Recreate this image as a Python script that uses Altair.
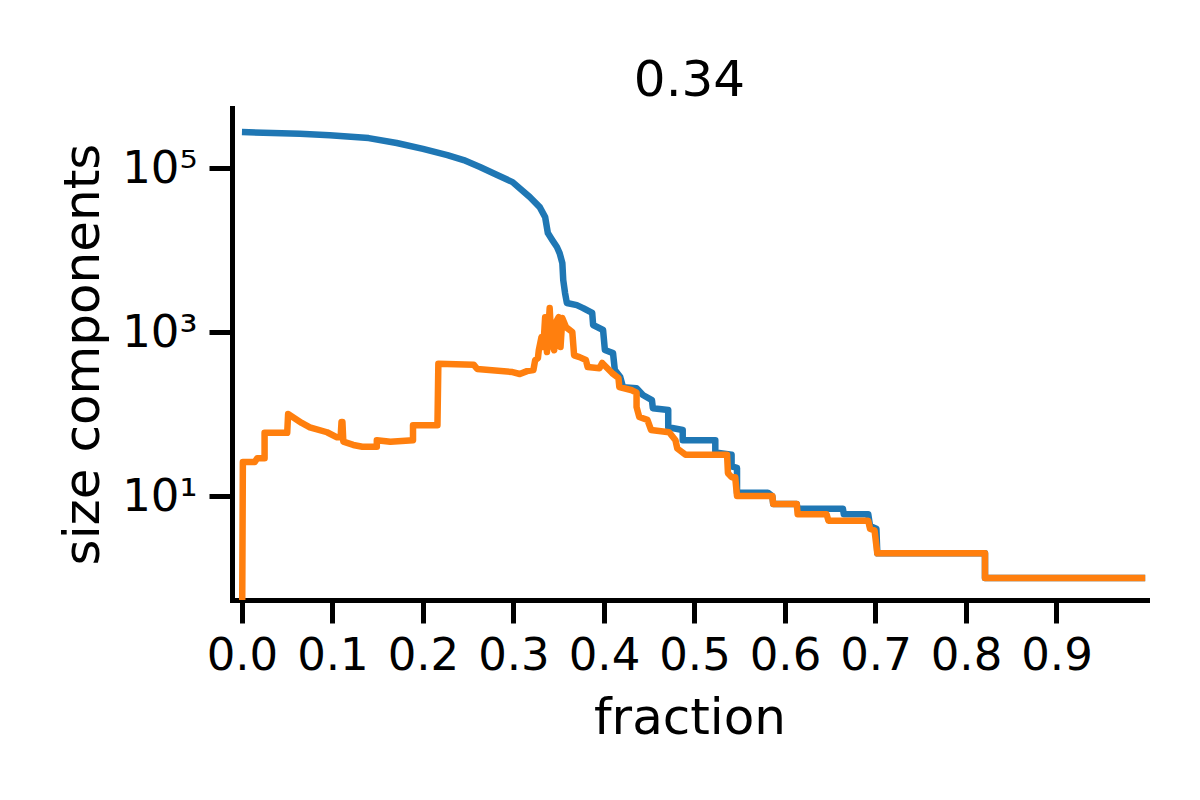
import altair as alt
import pandas as pd

# Blue series (largest component size vs fraction)
blue_fraction = [0.000, 0.064, 0.097, 0.140, 0.171, 0.200, 0.227, 0.245, 0.263, 0.282,
                 0.299, 0.318, 0.329, 0.335, 0.338, 0.343, 0.348, 0.351, 0.354, 0.355,
                 0.357, 0.359, 0.370, 0.377, 0.387, 0.388, 0.399, 0.401, 0.410, 0.412,
                 0.418, 0.421, 0.436, 0.443, 0.453, 0.454, 0.471, 0.471, 0.487, 0.487,
                 0.523, 0.523, 0.541, 0.541, 0.547, 0.547, 0.581, 0.586, 0.587, 0.613,
                 0.614, 0.664, 0.665, 0.692, 0.694, 0.701, 0.702, 0.821, 0.821, 0.998]
blue_size = [275000, 262000, 252000, 232000, 202000, 171000, 144000, 125000, 103000, 82200,
             67400, 44300, 33400, 25200, 16100, 13200, 10900, 9190, 6940, 4300,
             2990, 2260, 2130, 1960, 1710, 1220, 1060, 603, 554, 344,
             283, 213, 207, 171, 148, 118, 112, 69, 64, 48,
             48, 34, 32, 23, 22, 11, 11, 10, 8, 8,
             7, 7, 6, 6, 4.3, 4, 2, 2, 1, 1]

# Orange series (second component size vs fraction)
orange_fraction = [0.000, 0.001, 0.014, 0.017, 0.025, 0.025, 0.050, 0.051, 0.066, 0.075,
                   0.094, 0.105, 0.109, 0.110, 0.111, 0.112, 0.123, 0.133, 0.149, 0.149,
                   0.164, 0.189, 0.189, 0.216, 0.217, 0.256, 0.260, 0.299, 0.307, 0.315,
                   0.322, 0.324, 0.327, 0.328, 0.331, 0.333, 0.335, 0.337, 0.340, 0.342,
                   0.345, 0.347, 0.350, 0.352, 0.354, 0.358, 0.365, 0.367, 0.373, 0.380,
                   0.382, 0.395, 0.398, 0.409, 0.416, 0.417, 0.431, 0.436, 0.436, 0.439,
                   0.448, 0.452, 0.472, 0.479, 0.481, 0.490, 0.536, 0.537, 0.541, 0.545,
                   0.547, 0.586, 0.587, 0.613, 0.614, 0.646, 0.648, 0.692, 0.694, 0.699,
                   0.702, 0.821, 0.821, 0.998]
orange_size = [0.1, 26, 26, 29, 29, 59, 59, 100, 78, 69,
               60, 52, 52, 80, 80, 46, 42, 40, 40, 48,
               46, 48, 73, 73, 410, 400, 354, 325, 308, 334,
               344, 456, 482, 603, 870, 660, 1520, 570, 1960, 735,
               600, 1320, 1520, 657, 1480, 1150, 1000, 520, 495, 457,
               374, 363, 420, 316, 275, 213, 195, 182, 122, 92,
               85, 64, 60, 48, 38, 32, 32, 19, 17, 17,
               10, 10, 8, 8, 6, 6, 5, 5, 4, 3.8,
               2, 2, 1, 1]

x_ticks = [0.0, 0.1, 0.2, 0.3, 0.4, 0.5, 0.6, 0.7, 0.8, 0.9]
y_ticks = [10, 1000, 100000]
y_tick_labels = ["10¹", "10³", "10⁵"]
chart_title = "0.34"
x_title = "fraction"
y_title = "size components"

FONT = "DejaVu Sans"
W, H = 915, 492


def frame(xs, ys):
    return pd.DataFrame({"fraction": xs, "size": ys, "i": list(range(len(xs)))})


label_expr = " : ".join(
    f"datum.value == {v} ? '{lab}'" for v, lab in zip(y_ticks, y_tick_labels)
) + " : ''"

x_enc = alt.X(
    "fraction:Q",
    scale=alt.Scale(domain=[-0.011, 1.0], nice=False, zero=False),
    axis=alt.Axis(values=x_ticks, format=".1f", title=x_title,
                  titleX=W / 2, titleY=133, titleAlign="center",
                  titleBaseline="alphabetic", labelPadding=10),
)
y_enc = alt.Y(
    "size:Q",
    scale=alt.Scale(type="log", domain=[0.54, 540000], nice=False),
    axis=alt.Axis(values=y_ticks, labelExpr=label_expr, title=y_title,
                  titleX=-134, titleY=H / 2, titleAngle=270, titleAlign="center",
                  titleBaseline="alphabetic", labelPadding=12),
)

blue = alt.Chart(frame(blue_fraction, blue_size)).mark_line(
    color="#1f77b4", strokeWidth=6.5, clip=True, strokeJoin="round"
).encode(x=x_enc, y=y_enc, order=alt.Order("i:Q"))

orange = alt.Chart(frame(orange_fraction, orange_size)).mark_line(
    color="#ff7f0e", strokeWidth=6.5, clip=True, strokeJoin="round"
).encode(x=x_enc, y=y_enc, order=alt.Order("i:Q"))

chart = alt.layer(blue, orange).properties(
    width=W,
    height=H,
    autosize=alt.AutoSizeParams(type="none"),
    padding={"left": 224, "top": 100, "right": 45, "bottom": 180},
    title=alt.TitleParams(text=chart_title, fontSize=50, font=FONT, fontWeight="normal",
                          color="black", anchor="middle", baseline="alphabetic",
                          offset=15, dy=53),
).configure_view(stroke=None).configure_axis(
    grid=False,
    domainColor="black",
    domainWidth=5,
    domainCap="square",
    tickColor="black",
    tickWidth=5,
    tickSize=23,
    labelFont=FONT,
    labelFontSize=45,
    labelColor="black",
    titleFont=FONT,
    titleFontSize=50,
    titleFontWeight="normal",
    titleColor="black",
)

chart.save("out.html", embed_options={"renderer": "svg", "actions": False})
